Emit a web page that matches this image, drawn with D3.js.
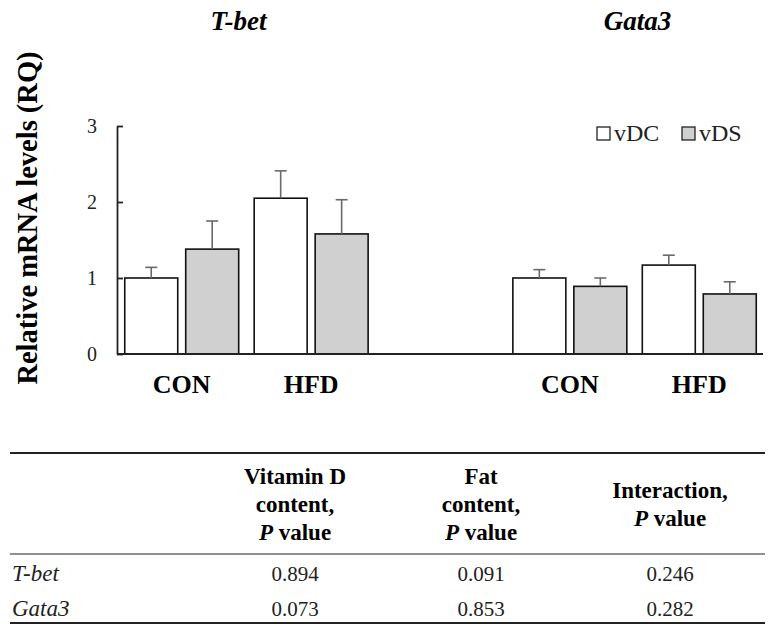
<!DOCTYPE html>
<html>
<head>
<meta charset="utf-8">
<script src="https://cdn.jsdelivr.net/npm/d3@7"></script>
<style>
  body { margin: 0; background: #fff; }
  svg text { font-family: 'Liberation Serif', 'Times New Roman', serif; }
</style>
</head>
<body>
<div id="chart"></div>
<script>
// data
var genes = ['T-bet', 'Gata3']
var diets = ['CON', 'HFD']
var groups = ['vDC', 'vDS']

// means per diet (CON, HFD) and upper error (SEM)
var tbetVDC = [1.00, 2.05]
var tbetVDS = [1.38, 1.58]
var tbetVDCerr = [0.14, 0.36]
var tbetVDSerr = [0.37, 0.45]
var gata3VDC = [1.00, 1.17]
var gata3VDS = [0.89, 0.79]
var gata3VDCerr = [0.11, 0.13]
var gata3VDSerr = [0.11, 0.16]

var yTicks = [0, 1, 2, 3]

// table
var tableRows = ['T-bet', 'Gata3']
var pVitaminD = ['0.894', '0.073']
var pFat = ['0.091', '0.853']
var pInteraction = ['0.246', '0.282']

var bars = []
function addBars (gene, vdc, vds, vdcErr, vdsErr) {
  diets.forEach(function (diet, i) {
    bars.push({ gene: gene, diet: diet, group: 'vDC', mean: vdc[i], err: vdcErr[i] })
    bars.push({ gene: gene, diet: diet, group: 'vDS', mean: vds[i], err: vdsErr[i] })
  })
}
addBars('T-bet', tbetVDC, tbetVDS, tbetVDCerr, tbetVDSerr)
addBars('Gata3', gata3VDC, gata3VDS, gata3VDCerr, gata3VDSerr)

var width = 784
var height = 637

var svg = d3.select('#chart')
  .append('svg')
  .attr('width', width)
  .attr('height', height)

// scales
var geneScale = d3.scaleBand()
  .domain(genes)
  .range([117, 764])
  .paddingInner(0.333)
  .paddingOuter(0)

var dietScale = d3.scaleBand()
  .domain(diets)
  .range([0, geneScale.bandwidth()])

var groupScale = d3.scaleBand()
  .domain(groups)
  .range([0, dietScale.bandwidth()])
  .paddingInner(0.131)
  .paddingOuter(0.127)

var yScale = d3.scaleLinear()
  .domain([0, 3])
  .range([354, 126])

var fillScale = d3.scaleOrdinal()
  .domain(groups)
  .range(['#ffffff', '#d0d0d0'])

function barX (d) {
  return geneScale(d.gene) + dietScale(d.diet) + groupScale(d.group)
}

// bars
svg.append('g')
  .selectAll('rect')
  .data(bars)
  .enter().append('rect')
  .attr('x', barX)
  .attr('y', d => yScale(d.mean))
  .attr('width', groupScale.bandwidth())
  .attr('height', d => yScale(0) - yScale(d.mean))
  .attr('fill', d => fillScale(d.group))
  .attr('stroke', '#111')
  .attr('stroke-width', 1.6)

// error bars
var errG = svg.append('g')
  .attr('stroke', '#6a6a6a')
  .attr('stroke-width', 1.6)

errG.selectAll('.stem')
  .data(bars)
  .enter().append('line')
  .attr('class', 'stem')
  .attr('x1', d => barX(d) + groupScale.bandwidth() / 2)
  .attr('x2', d => barX(d) + groupScale.bandwidth() / 2)
  .attr('y1', d => yScale(d.mean))
  .attr('y2', d => yScale(d.mean + d.err))

errG.selectAll('.cap')
  .data(bars)
  .enter().append('line')
  .attr('class', 'cap')
  .attr('x1', d => barX(d) + groupScale.bandwidth() / 2 - 6)
  .attr('x2', d => barX(d) + groupScale.bandwidth() / 2 + 6)
  .attr('y1', d => yScale(d.mean + d.err))
  .attr('y2', d => yScale(d.mean + d.err))

// y axis
var yAxis = d3.axisLeft(yScale)
  .tickValues(yTicks)
  .tickFormat(d3.format('d'))
  .tickSizeInner(-6)
  .tickSizeOuter(0)
  .tickPadding(20)

var yG = svg.append('g')
  .attr('class', 'axis y-axis')
  .attr('transform', 'translate(117,0)')
  .call(yAxis)

yG.selectAll('text')
  .attr('font-size', 20)
  .attr('fill', '#222')
yG.selectAll('line, path').attr('stroke', '#222').attr('stroke-width', 1.8)

// baseline
svg.append('line')
  .attr('x1', 117)
  .attr('x2', 763)
  .attr('y1', yScale(0))
  .attr('y2', yScale(0))
  .attr('stroke', '#222')
  .attr('stroke-width', 2)

// diet labels
genes.forEach(function (gene) {
  svg.append('g')
    .selectAll('text')
    .data(diets)
    .enter().append('text')
    .attr('x', d => geneScale(gene) + dietScale(d) + dietScale.bandwidth() / 2)
    .attr('y', 393)
    .attr('text-anchor', 'middle')
    .attr('font-size', 26)
    .attr('font-weight', 'bold')
    .text(d => d)
})

// gene titles
svg.append('g')
  .selectAll('text')
  .data(genes)
  .enter().append('text')
  .attr('x', d => geneScale(d) + geneScale.bandwidth() / 2 + (d === 'T-bet' ? -8 : 3))
  .attr('y', 30)
  .attr('text-anchor', 'middle')
  .attr('font-size', 27)
  .attr('font-weight', 'bold')
  .attr('font-style', 'italic')
  .text(d => d)

// y label
svg.append('text')
  .attr('transform', 'translate(37,218) rotate(-90)')
  .attr('text-anchor', 'middle')
  .attr('font-size', 28.5)
  .attr('font-weight', 'bold')
  .text('Relative mRNA levels (RQ)')

// legend
var legend = svg.append('g')
  .selectAll('g')
  .data(groups)
  .enter().append('g')
  .attr('transform', (d, i) => 'translate(' + (597 + i * 85) + ',127)')

legend.append('rect')
  .attr('width', 13)
  .attr('height', 13)
  .attr('fill', d => fillScale(d))
  .attr('stroke', '#222')
  .attr('stroke-width', 1.3)

legend.append('text')
  .attr('x', 17)
  .attr('y', 14)
  .attr('font-size', 24)
  .attr('fill', '#222')
  .text(d => d)

// table
var colX = [295, 481, 670]

function hline (y, w) {
  svg.append('line')
    .attr('x1', 10).attr('x2', 765)
    .attr('y1', y).attr('y2', y)
    .attr('stroke', '#222')
    .attr('stroke-width', w)
}
hline(453, 2.2)
hline(554, 1.2)
hline(623, 2.2)

function header (x, lines, ys) {
  lines.forEach(function (line, i) {
    var t = svg.append('text')
      .attr('x', x)
      .attr('y', ys[i])
      .attr('text-anchor', 'middle')
      .attr('font-size', 23)
      .attr('font-weight', 'bold')
    if (line === 'P value') {
      t.append('tspan').attr('font-style', 'italic').text('P')
      t.append('tspan').text(' value')
    } else {
      t.text(line)
    }
  })
}
header(colX[0], ['Vitamin D', 'content,', 'P value'], [484, 512, 540])
header(colX[1], ['Fat', 'content,', 'P value'], [484, 512, 540])
header(colX[2], ['Interaction,', 'P value'], [498, 526])

var rowY = [581, 616]

svg.append('g')
  .selectAll('text')
  .data(tableRows)
  .enter().append('text')
  .attr('x', 12)
  .attr('y', (d, i) => rowY[i])
  .attr('font-size', 23)
  .attr('font-style', 'italic')
  .attr('fill', '#222')
  .text(d => d)

;[pVitaminD, pFat, pInteraction].forEach(function (col, c) {
  svg.append('g')
    .selectAll('text')
    .data(col)
    .enter().append('text')
    .attr('x', colX[c])
    .attr('y', (d, i) => rowY[i])
    .attr('text-anchor', 'middle')
    .attr('font-size', 21)
    .attr('fill', '#222')
    .text(d => d)
})
</script>
</body>
</html>
